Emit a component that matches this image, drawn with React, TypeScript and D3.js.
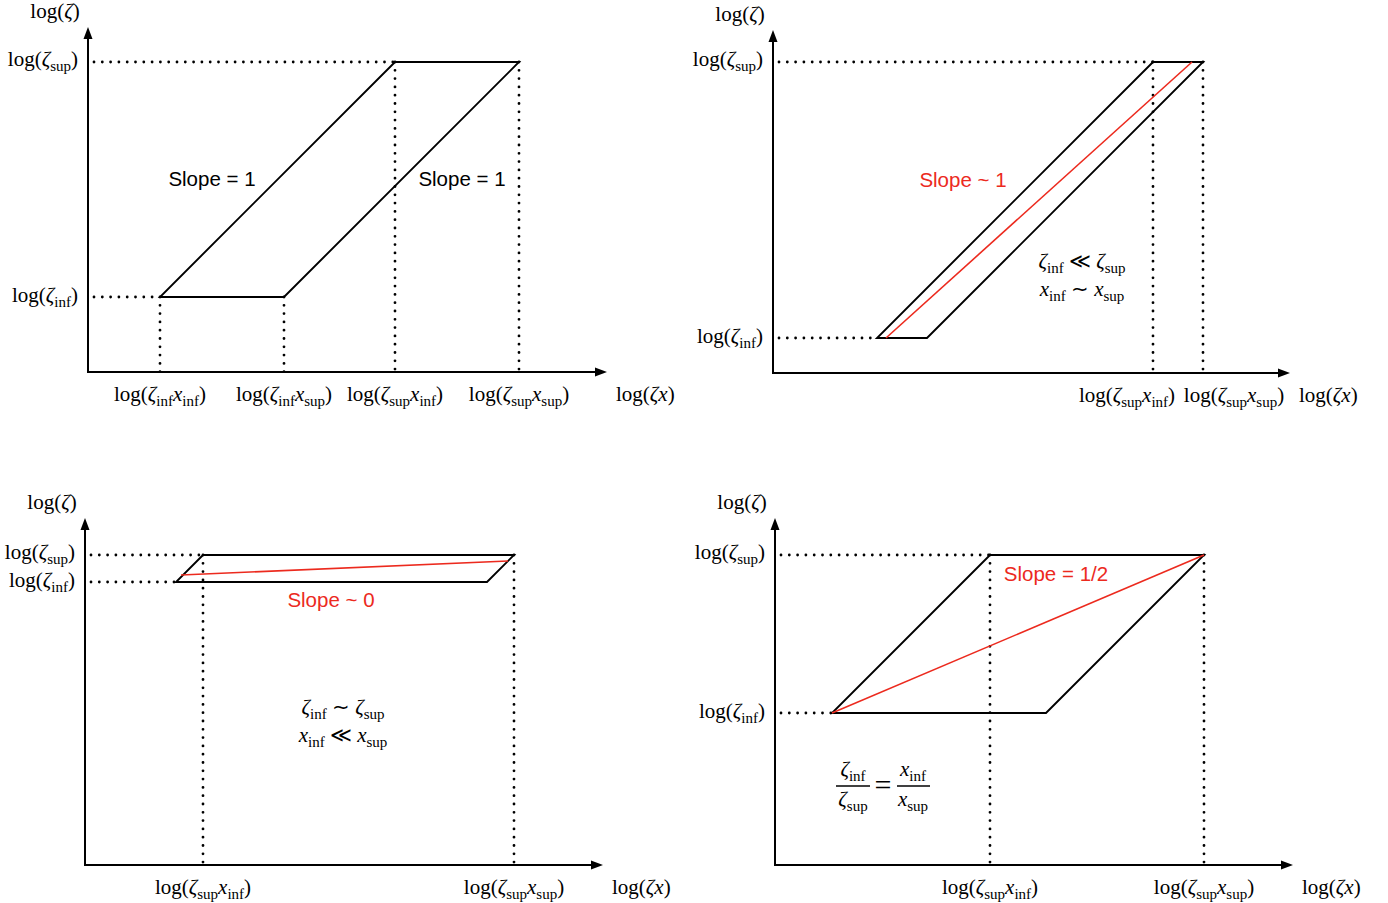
import React from "react";
import * as d3 from "d3";

// ---- data (log units, arbitrary scale; 1 unit = 1 px of the sketch) ----
const panelIds = ["a", "b", "c", "d"];
const logZetaInf = [75, 35, 283, 152];
const logZetaSup = [310, 311, 310, 310];
const logXInf = [-3, 69, -192, -95];
const logXSup = [121, 119, 119, 119];
// which x-ticks are labelled: [zeta, x] pairs
const xTicks: string[][][] = [
  [["inf", "inf"], ["inf", "sup"], ["sup", "inf"], ["sup", "sup"]],
  [["sup", "inf"], ["sup", "sup"]],
  [["sup", "inf"], ["sup", "sup"]],
  [["sup", "inf"], ["sup", "sup"]],
];
// red trend lines: [x0, y0, x1, y1] in log units
const redLines: (number[] | null)[] = [
  null,
  [113, 35, 419, 311],
  [96, 290, 423, 304],
  [57, 152, 429, 310],
];
const slopeLabels = [
  [{ text: "Slope = 1", x: 124, y: 193, red: false }, { text: "Slope = 1", x: 374, y: 193, red: false }],
  [{ text: "Slope ~ 1", x: 190, y: 193, red: true }],
  [{ text: "Slope ~ 0", x: 246, y: 265, red: true }],
  [{ text: "Slope = 1/2", x: 281, y: 291, red: true }],
];

// ---- layout ----
const origins = [
  [88, 372],
  [773, 373],
  [85, 865],
  [775, 865],
];
const xAxisLen = [519, 517, 518, 518];
const yAxisLen = [345, 343, 347, 347];
const tickLabelShift = [
  [0, 0, 0, 0],
  [-26, 31],
  [0, 0],
  [0, 0],
];
const RED = "#ec2a1e";

type Seg = { t: string; it?: boolean; sub?: boolean };

const FS = 21;
const SFS = 15;

function Rich({ segs, x, y, anchor = "middle" }: { segs: Seg[]; x: number; y: number; anchor?: string }) {
  return (
    <text x={x} y={y} textAnchor={anchor} fontFamily="'Liberation Serif', 'Times New Roman', serif" fontSize={FS} fill="#000">
      {segs.map((s, i) => {
        const prevSub = i > 0 && segs[i - 1].sub;
        let dy = 0;
        if (s.sub && !prevSub) dy = 5;
        else if (!s.sub && prevSub) dy = -5;
        return (
          <tspan key={i} dy={dy} fontSize={s.sub ? SFS : FS} fontStyle={s.it ? "italic" : "normal"}>
            {s.t}
          </tspan>
        );
      })}
    </text>
  );
}

const logZ: Seg[] = [{ t: "log(" }, { t: "ζ", it: true }, { t: ")" }];
const logZs = (s: string): Seg[] => [{ t: "log(" }, { t: "ζ", it: true }, { t: s, sub: true }, { t: ")" }];
const logZX = (a: string, b: string): Seg[] => [
  { t: "log(" },
  { t: "ζ", it: true },
  { t: a, sub: true },
  { t: "x", it: true },
  { t: b, sub: true },
  { t: ")" },
];
const logZx: Seg[] = [{ t: "log(" }, { t: "ζx", it: true }, { t: ")" }];

const dotted = { stroke: "#000", strokeWidth: 2.8, strokeDasharray: "0 8.3", strokeLinecap: "round" as const, fill: "none" };

function Panel({ i }: { i: number }) {
  const [ox, oy] = origins[i];
  const xs = d3.scaleLinear().domain([0, 500]).range([ox, ox + 500]);
  const ys = d3.scaleLinear().domain([0, 500]).range([oy, oy - 500]);
  const zi = logZetaInf[i], zs = logZetaSup[i], xi = logXInf[i], xp = logXSup[i];
  const corners: [number, number][] = [
    [zi + xi, zi],
    [zi + xp, zi],
    [zs + xp, zs],
    [zs + xi, zs],
  ];
  const line = d3.line<[number, number]>().x((d) => xs(d[0])).y((d) => ys(d[1]));
  const poly = line(corners) + "Z";
  const xEnd = xs(xAxisLen[i]);
  const yEnd = ys(yAxisLen[i]);
  const zv = (k: string) => (k === "inf" ? zi : zs);
  const xv = (k: string) => (k === "inf" ? xi : xp);
  const red = redLines[i];
  return (
    <g>
      {/* dotted guides */}
      <line x1={xs(0) + 6} x2={xs(zi + xi)} y1={ys(zi)} y2={ys(zi)} {...dotted} />
      <line x1={xs(0) + 6} x2={xs(zs + xi)} y1={ys(zs)} y2={ys(zs)} {...dotted} />
      {xTicks[i].map(([a, b], k) => (
        <line key={k} x1={xs(zv(a) + xv(b))} x2={xs(zv(a) + xv(b))} y1={ys(zv(a))} y2={ys(0)} {...dotted} />
      ))}
      {/* parallelogram */}
      <path d={poly} fill="none" stroke="#000" strokeWidth={1.9} strokeLinejoin="miter" />
      {red && (
        <line x1={xs(red[0])} y1={ys(red[1])} x2={xs(red[2])} y2={ys(red[3])} stroke={RED} strokeWidth={1.6} />
      )}
      {/* axes */}
      <line x1={xs(0)} y1={ys(0)} x2={xEnd - 8} y2={ys(0)} stroke="#000" strokeWidth={2} />
      <line x1={xs(0)} y1={ys(0) + 1} x2={xs(0)} y2={yEnd + 8} stroke="#000" strokeWidth={2} />
      <path d={`M${xEnd},${ys(0)} L${xEnd - 12},${ys(0) - 4.5} L${xEnd - 12},${ys(0) + 4.5}Z`} fill="#000" />
      <path d={`M${xs(0)},${yEnd} L${xs(0) - 4.5},${yEnd + 12} L${xs(0) + 4.5},${yEnd + 12}Z`} fill="#000" />
      {/* axis labels */}
      <Rich segs={logZ} x={xs(0) - 33} y={yEnd - 9} />
      <Rich segs={logZs("sup")} x={xs(0) - 10} y={ys(zs) + 4} anchor="end" />
      <Rich segs={logZs("inf")} x={xs(0) - 10} y={ys(zi) + 5} anchor="end" />
      {xTicks[i].map(([a, b], k) => (
        <Rich key={k} segs={logZX(a, b)} x={xs(zv(a) + xv(b)) + tickLabelShift[i][k]} y={ys(0) + 29} />
      ))}
      <Rich segs={logZx} x={xEnd + 9} y={ys(0) + 29} anchor="start" />
      {slopeLabels[i].map((s, k) => (
        <text
          key={k}
          x={xs(s.x)}
          y={ys(s.y) + 7}
          textAnchor="middle"
          fontFamily="'Liberation Sans', Arial, sans-serif"
          fontSize={20.5}
          fill={s.red ? RED : "#000"}
        >
          {s.text}
        </text>
      ))}
    </g>
  );
}

const sub = (t: string): Seg => ({ t, sub: true });
const zeta: Seg = { t: "ζ", it: true };
const xx: Seg = { t: "x", it: true };

export default function App() {
  return (
    <svg width={1388} height={903} style={{ position: "absolute", left: 0, top: 0, background: "#fff" }}>
      <rect width={1388} height={903} fill="#fff" />
      {panelIds.map((id, i) => (
        <Panel key={id} i={i} />
      ))}
      {/* condition notes */}
      <Rich segs={[zeta, sub("inf"), { t: " ≪ " }, zeta, sub("sup")]} x={1082} y={268} />
      <Rich segs={[xx, sub("inf"), { t: " ∼ " }, xx, sub("sup")]} x={1082} y={296} />
      <Rich segs={[zeta, sub("inf"), { t: " ∼ " }, zeta, sub("sup")]} x={343} y={714} />
      <Rich segs={[xx, sub("inf"), { t: " ≪ " }, xx, sub("sup")]} x={343} y={742} />
      {/* fraction */}
      <Rich segs={[zeta, sub("inf")]} x={853} y={776} />
      <line x1={836} x2={870} y1={786} y2={786} stroke="#000" strokeWidth={1.3} />
      <Rich segs={[zeta, sub("sup")]} x={853} y={806} />
      <text x={883} y={795} textAnchor="middle" fontFamily="'Liberation Serif', serif" fontSize={30}>=</text>
      <Rich segs={[xx, sub("inf")]} x={913} y={776} />
      <line x1={897} x2={930} y1={786} y2={786} stroke="#000" strokeWidth={1.3} />
      <Rich segs={[xx, sub("sup")]} x={913} y={806} />
    </svg>
  );
}
